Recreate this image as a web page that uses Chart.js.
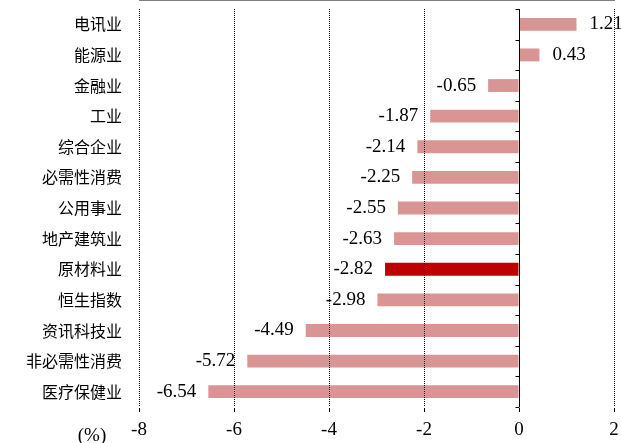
<!DOCTYPE html>
<html>
<head>
<meta charset="utf-8">
<script src="https://cdn.jsdelivr.net/npm/chart.js@4.4.0/dist/chart.umd.min.js"></script>
<style>
  html, body { margin: 0; padding: 0; background: #fff; }
</style>
</head>
<body>
<canvas id="chart" width="621" height="443"></canvas>
<script>
// 恒生指数及各行业指数涨跌幅 (%)
const sectors = ['电讯业', '能源业', '金融业', '工业', '综合企业', '必需性消费', '公用事业',
                 '地产建筑业', '原材料业', '恒生指数', '资讯科技业', '非必需性消费', '医疗保健业'];
const changes = [1.21, 0.43, -0.65, -1.87, -2.14, -2.25, -2.55, -2.63, -2.82, -2.98, -4.49, -5.72, -6.54];
const xTicks = [-8, -6, -4, -2, 0, 2];
const highlighted = '原材料业';

const pink = '#d99594';
const darkRed = '#c00000';
const numFont = '19px "Liberation Serif", "Times New Roman", serif';

// zero axis, value labels and the unit label
const extras = {
  id: 'extras',
  afterDatasetsDraw(chart) {
    const { ctx, chartArea, scales: { x, y } } = chart;
    const x0 = Math.round(x.getPixelForValue(0)) + 0.5;
    ctx.save();
    ctx.strokeStyle = '#000';
    ctx.lineWidth = 1;
    ctx.beginPath();
    ctx.moveTo(x0, chartArea.top);
    ctx.lineTo(x0, chartArea.bottom);
    for (let i = 0; i <= sectors.length; i++) {
      const yy = Math.round(y.getPixelForValue(i - 0.5)) + 0.5;
      ctx.moveTo(x0 - 4, yy);
      ctx.lineTo(x0, yy);
    }
    ctx.stroke();

    ctx.font = numFont;
    ctx.fillStyle = '#000';
    ctx.textBaseline = 'middle';
    chart.getDatasetMeta(0).data.forEach((bar, i) => {
      const v = changes[i];
      ctx.textAlign = v >= 0 ? 'left' : 'right';
      ctx.fillText(v.toFixed(2), bar.x + (v >= 0 ? 13 : -12), bar.y);
    });

    ctx.textAlign = 'center';
    ctx.fillText('(%)', chartArea.left - 47, chartArea.bottom + 29);
    ctx.restore();
  }
};

new Chart(document.getElementById('chart'), {
  type: 'bar',
  data: {
    labels: sectors,
    datasets: [{
      data: changes,
      backgroundColor: sectors.map(s => s === highlighted ? darkRed : pink),
      borderWidth: 0,
      categoryPercentage: 1,
      barPercentage: 0.42
    }]
  },
  options: {
    indexAxis: 'y',
    responsive: false,
    animation: false,
    devicePixelRatio: 1,
    layout: { padding: { top: 9, right: 7, bottom: 0, left: 0 } },
    plugins: { legend: { display: false }, tooltip: { enabled: false } },
    scales: {
      x: {
        min: -8,
        max: 2,
        afterBuildTicks: scale => { scale.ticks = xTicks.map(v => ({ value: v })); },
        afterFit: scale => {
          scale.height = 36;
          scale.paddingLeft = 0;
          scale.paddingRight = 0;
        },
        grid: {
          z: 1, // dotted lines sit on top of the bars
          color: c => (c.tick && c.tick.value === 0) ? 'rgba(0,0,0,0)' : '#000',
          lineWidth: 1,
          drawTicks: true,
          tickLength: 5,
          tickColor: '#000'
        },
        border: {
          display: true,
          color: '#000',
          width: 1,
          dash: [1, 1]
        },
        ticks: {
          color: '#000',
          font: { family: '"Liberation Serif", "Times New Roman", serif', size: 19 },
          padding: 7,
          maxRotation: 0
        }
      },
      y: {
        afterFit: scale => {
          scale.width = 139;
          scale.paddingTop = 0;
          scale.paddingBottom = 0;
        },
        grid: { display: false, drawTicks: false },
        border: { display: false },
        ticks: {
          color: '#000',
          font: { family: '"Noto Sans CJK SC", sans-serif', size: 16 },
          padding: 17
        }
      }
    }
  },
  plugins: [extras]
});
</script>
</body>
</html>
